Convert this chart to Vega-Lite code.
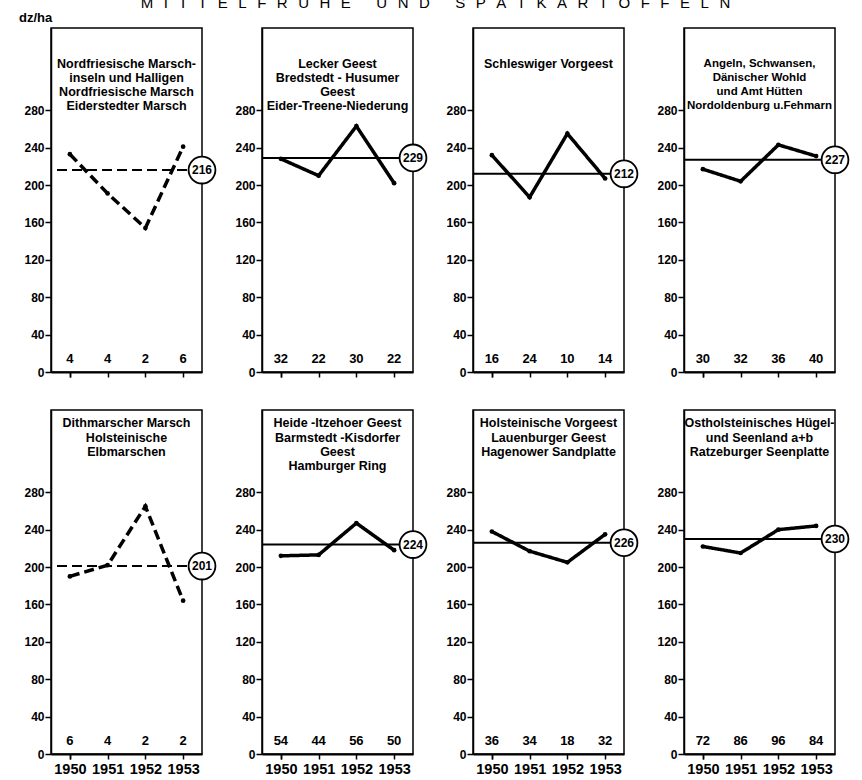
{
  "$schema": "https://vega.github.io/schema/vega-lite/v6.json",
  "padding": {"left": 18, "top": -4, "right": 10, "bottom": 5},
  "background": "white",
  "title": {
    "text": "M\u2002\u2009I\u2002\u2009T\u2002\u2009T\u2002\u2009E\u2002\u2009L\u2002\u2009F\u2002\u2009R\u2002\u2009Ü\u2002\u2009H\u2002\u2009E\u2003\u2002\u2009U\u2002\u2009N\u2002\u2009D\u2003\u2002\u2009S\u2002\u2009P\u2002\u2009Ä\u2002\u2009T\u2002\u2009K\u2002\u2009A\u2002\u2009R\u2002\u2009T\u2002\u2009O\u2002\u2009F\u2002\u2009F\u2002\u2009E\u2002\u2009L\u2002\u2009N",
    "anchor": "middle",
    "font": "Liberation Sans",
    "fontSize": 15,
    "fontWeight": "normal",
    "color": "black",
    "offset": 0
  },
  "data": {"name": "d"},
  "datasets": {
    "d": [
      {"nr": 1, "typ": "Marsch", "title": "Nordfriesische Marsch-|inseln und Halligen|Nordfriesische Marsch|Eiderstedter Marsch", "avg": 216},
      {"nr": 1, "typ": "Marsch", "year": 1950, "yield": 233, "n": 4},
      {"nr": 1, "typ": "Marsch", "year": 1951, "yield": 191, "n": 4},
      {"nr": 1, "typ": "Marsch", "year": 1952, "yield": 154, "n": 2},
      {"nr": 1, "typ": "Marsch", "year": 1953, "yield": 241, "n": 6},
      {"nr": 2, "typ": "Geest", "title": "Lecker  Geest|Bredstedt - Husumer|Geest|Eider-Treene-Niederung", "avg": 229},
      {"nr": 2, "typ": "Geest", "year": 1950, "yield": 228, "n": 32},
      {"nr": 2, "typ": "Geest", "year": 1951, "yield": 210, "n": 22},
      {"nr": 2, "typ": "Geest", "year": 1952, "yield": 263, "n": 30},
      {"nr": 2, "typ": "Geest", "year": 1953, "yield": 202, "n": 22},
      {"nr": 3, "typ": "Geest", "title": "Schleswiger Vorgeest", "avg": 212},
      {"nr": 3, "typ": "Geest", "year": 1950, "yield": 232, "n": 16},
      {"nr": 3, "typ": "Geest", "year": 1951, "yield": 187, "n": 24},
      {"nr": 3, "typ": "Geest", "year": 1952, "yield": 255, "n": 10},
      {"nr": 3, "typ": "Geest", "year": 1953, "yield": 207, "n": 14},
      {"nr": 4, "typ": "Geest", "title": "Angeln, Schwansen,|Dänischer Wohld|und Amt Hütten|Nordoldenburg u.Fehmarn", "avg": 227},
      {"nr": 4, "typ": "Geest", "year": 1950, "yield": 217, "n": 30},
      {"nr": 4, "typ": "Geest", "year": 1951, "yield": 204, "n": 32},
      {"nr": 4, "typ": "Geest", "year": 1952, "yield": 243, "n": 36},
      {"nr": 4, "typ": "Geest", "year": 1953, "yield": 231, "n": 40},
      {"nr": 5, "typ": "Marsch", "title": "Dithmarscher Marsch|Holsteinische|Elbmarschen", "avg": 201},
      {"nr": 5, "typ": "Marsch", "year": 1950, "yield": 190, "n": 6},
      {"nr": 5, "typ": "Marsch", "year": 1951, "yield": 202, "n": 4},
      {"nr": 5, "typ": "Marsch", "year": 1952, "yield": 265, "n": 2},
      {"nr": 5, "typ": "Marsch", "year": 1953, "yield": 164, "n": 2},
      {"nr": 6, "typ": "Geest", "title": "Heide -Itzehoer Geest|Barmstedt -Kisdorfer|Geest|Hamburger Ring", "avg": 224},
      {"nr": 6, "typ": "Geest", "year": 1950, "yield": 212, "n": 54},
      {"nr": 6, "typ": "Geest", "year": 1951, "yield": 213, "n": 44},
      {"nr": 6, "typ": "Geest", "year": 1952, "yield": 247, "n": 56},
      {"nr": 6, "typ": "Geest", "year": 1953, "yield": 218, "n": 50},
      {"nr": 7, "typ": "Geest", "title": "Holsteinische Vorgeest|Lauenburger Geest|Hagenower Sandplatte", "avg": 226},
      {"nr": 7, "typ": "Geest", "year": 1950, "yield": 238, "n": 36},
      {"nr": 7, "typ": "Geest", "year": 1951, "yield": 217, "n": 34},
      {"nr": 7, "typ": "Geest", "year": 1952, "yield": 205, "n": 18},
      {"nr": 7, "typ": "Geest", "year": 1953, "yield": 235, "n": 32},
      {"nr": 8, "typ": "Geest", "title": "Ostholsteinisches Hügel-|und Seenland a+b|Ratzeburger Seenplatte", "avg": 230},
      {"nr": 8, "typ": "Geest", "year": 1950, "yield": 222, "n": 72},
      {"nr": 8, "typ": "Geest", "year": 1951, "yield": 215, "n": 86},
      {"nr": 8, "typ": "Geest", "year": 1952, "yield": 240, "n": 96},
      {"nr": 8, "typ": "Geest", "year": 1953, "yield": 244, "n": 84}
    ]
  },
  "columns": 4,
  "bounds": "flush",
  "spacing": {"row": 38, "column": 60},
  "concat": [
    {
      "title": {"text": "dz/ha", "anchor": "start", "frame": "group", "dx": -32, "offset": 3, "font": "Liberation Sans", "fontSize": 13, "fontWeight": "bold", "color": "black"},
      "transform": [{"filter": "datum.nr == 1"}],
      "width": 151, "height": 344,
      "layer": [
        {"transform": [{"filter": "isValid(datum.avg)"}], "mark": {"type": "rule", "strokeWidth": 2, "color": "black"},
         "encoding": {"y": {"field": "avg", "type": "quantitative", "title": null, "scale": {"domain": [0, 368], "nice": false}, "axis": {"values": [0, 40, 80, 120, 160, 200, 240, 280]}},
                      "strokeDash": {"field": "typ", "type": "nominal", "scale": {"domain": ["Marsch", "Geest"], "range": [[10, 5], [1, 0]]}, "legend": null}}},
        {"transform": [{"filter": "isValid(datum.yield)"}], "mark": {"type": "line", "strokeWidth": 3.5, "color": "black"},
         "encoding": {"x": {"field": "year", "type": "ordinal", "title": null, "axis": {"labels": false}},
                      "y": {"field": "yield", "type": "quantitative", "title": null},
                      "strokeDash": {"field": "typ", "type": "nominal", "legend": null}}},
        {"transform": [{"filter": "isValid(datum.yield)"}], "mark": {"type": "point", "filled": true, "size": 22, "color": "black", "opacity": 1},
         "encoding": {"x": {"field": "year", "type": "ordinal", "title": null}, "y": {"field": "yield", "type": "quantitative", "title": null}}},
        {"transform": [{"filter": "isValid(datum.yield)"}], "mark": {"type": "text", "fontSize": 13},
         "encoding": {"x": {"field": "year", "type": "ordinal", "title": null}, "y": {"datum": 14}, "text": {"field": "n", "type": "quantitative"}}},
        {"transform": [{"filter": "isValid(datum.avg)"}], "mark": {"type": "point", "shape": "circle", "size": 720, "filled": true, "fill": "white", "stroke": "black", "strokeWidth": 1.8, "opacity": 1},
         "encoding": {"x": {"value": "width"}, "y": {"field": "avg", "type": "quantitative", "title": null}}},
        {"transform": [{"filter": "isValid(datum.avg)"}], "mark": {"type": "text", "fontSize": 12},
         "encoding": {"x": {"value": "width"}, "y": {"field": "avg", "type": "quantitative", "title": null}, "text": {"field": "avg", "type": "quantitative"}}},
        {"transform": [{"filter": "isValid(datum.title)"}], "mark": {"type": "text", "dx": -75.5, "fontSize": 12.5, "lineBreak": "|", "lineHeight": 14.3},
         "encoding": {"x": {"value": "width"}, "y": {"datum": 330}, "text": {"field": "title", "type": "nominal"}}}
      ]
    },
    {
      "transform": [{"filter": "datum.nr == 2"}],
      "width": 151, "height": 344,
      "layer": [
        {"transform": [{"filter": "isValid(datum.avg)"}], "mark": {"type": "rule", "strokeWidth": 2, "color": "black"},
         "encoding": {"y": {"field": "avg", "type": "quantitative", "title": null, "scale": {"domain": [0, 368], "nice": false}, "axis": {"values": [0, 40, 80, 120, 160, 200, 240, 280]}},
                      "strokeDash": {"field": "typ", "type": "nominal", "scale": {"domain": ["Marsch", "Geest"], "range": [[10, 5], [1, 0]]}, "legend": null}}},
        {"transform": [{"filter": "isValid(datum.yield)"}], "mark": {"type": "line", "strokeWidth": 3.5, "color": "black"},
         "encoding": {"x": {"field": "year", "type": "ordinal", "title": null, "axis": {"labels": false}},
                      "y": {"field": "yield", "type": "quantitative", "title": null},
                      "strokeDash": {"field": "typ", "type": "nominal", "legend": null}}},
        {"transform": [{"filter": "isValid(datum.yield)"}], "mark": {"type": "point", "filled": true, "size": 22, "color": "black", "opacity": 1},
         "encoding": {"x": {"field": "year", "type": "ordinal", "title": null}, "y": {"field": "yield", "type": "quantitative", "title": null}}},
        {"transform": [{"filter": "isValid(datum.yield)"}], "mark": {"type": "text", "fontSize": 13},
         "encoding": {"x": {"field": "year", "type": "ordinal", "title": null}, "y": {"datum": 14}, "text": {"field": "n", "type": "quantitative"}}},
        {"transform": [{"filter": "isValid(datum.avg)"}], "mark": {"type": "point", "shape": "circle", "size": 720, "filled": true, "fill": "white", "stroke": "black", "strokeWidth": 1.8, "opacity": 1},
         "encoding": {"x": {"value": "width"}, "y": {"field": "avg", "type": "quantitative", "title": null}}},
        {"transform": [{"filter": "isValid(datum.avg)"}], "mark": {"type": "text", "fontSize": 12},
         "encoding": {"x": {"value": "width"}, "y": {"field": "avg", "type": "quantitative", "title": null}, "text": {"field": "avg", "type": "quantitative"}}},
        {"transform": [{"filter": "isValid(datum.title)"}], "mark": {"type": "text", "dx": -75.5, "fontSize": 12.5, "lineBreak": "|", "lineHeight": 14.3},
         "encoding": {"x": {"value": "width"}, "y": {"datum": 330}, "text": {"field": "title", "type": "nominal"}}}
      ]
    },
    {
      "transform": [{"filter": "datum.nr == 3"}],
      "width": 151, "height": 344,
      "layer": [
        {"transform": [{"filter": "isValid(datum.avg)"}], "mark": {"type": "rule", "strokeWidth": 2, "color": "black"},
         "encoding": {"y": {"field": "avg", "type": "quantitative", "title": null, "scale": {"domain": [0, 368], "nice": false}, "axis": {"values": [0, 40, 80, 120, 160, 200, 240, 280]}},
                      "strokeDash": {"field": "typ", "type": "nominal", "scale": {"domain": ["Marsch", "Geest"], "range": [[10, 5], [1, 0]]}, "legend": null}}},
        {"transform": [{"filter": "isValid(datum.yield)"}], "mark": {"type": "line", "strokeWidth": 3.5, "color": "black"},
         "encoding": {"x": {"field": "year", "type": "ordinal", "title": null, "axis": {"labels": false}},
                      "y": {"field": "yield", "type": "quantitative", "title": null},
                      "strokeDash": {"field": "typ", "type": "nominal", "legend": null}}},
        {"transform": [{"filter": "isValid(datum.yield)"}], "mark": {"type": "point", "filled": true, "size": 22, "color": "black", "opacity": 1},
         "encoding": {"x": {"field": "year", "type": "ordinal", "title": null}, "y": {"field": "yield", "type": "quantitative", "title": null}}},
        {"transform": [{"filter": "isValid(datum.yield)"}], "mark": {"type": "text", "fontSize": 13},
         "encoding": {"x": {"field": "year", "type": "ordinal", "title": null}, "y": {"datum": 14}, "text": {"field": "n", "type": "quantitative"}}},
        {"transform": [{"filter": "isValid(datum.avg)"}], "mark": {"type": "point", "shape": "circle", "size": 720, "filled": true, "fill": "white", "stroke": "black", "strokeWidth": 1.8, "opacity": 1},
         "encoding": {"x": {"value": "width"}, "y": {"field": "avg", "type": "quantitative", "title": null}}},
        {"transform": [{"filter": "isValid(datum.avg)"}], "mark": {"type": "text", "fontSize": 12},
         "encoding": {"x": {"value": "width"}, "y": {"field": "avg", "type": "quantitative", "title": null}, "text": {"field": "avg", "type": "quantitative"}}},
        {"transform": [{"filter": "isValid(datum.title)"}], "mark": {"type": "text", "dx": -75.5, "fontSize": 12.5, "lineBreak": "|", "lineHeight": 14.3},
         "encoding": {"x": {"value": "width"}, "y": {"datum": 330}, "text": {"field": "title", "type": "nominal"}}}
      ]
    },
    {
      "transform": [{"filter": "datum.nr == 4"}],
      "width": 151, "height": 344,
      "layer": [
        {"transform": [{"filter": "isValid(datum.avg)"}], "mark": {"type": "rule", "strokeWidth": 2, "color": "black"},
         "encoding": {"y": {"field": "avg", "type": "quantitative", "title": null, "scale": {"domain": [0, 368], "nice": false}, "axis": {"values": [0, 40, 80, 120, 160, 200, 240, 280]}},
                      "strokeDash": {"field": "typ", "type": "nominal", "scale": {"domain": ["Marsch", "Geest"], "range": [[10, 5], [1, 0]]}, "legend": null}}},
        {"transform": [{"filter": "isValid(datum.yield)"}], "mark": {"type": "line", "strokeWidth": 3.5, "color": "black"},
         "encoding": {"x": {"field": "year", "type": "ordinal", "title": null, "axis": {"labels": false}},
                      "y": {"field": "yield", "type": "quantitative", "title": null},
                      "strokeDash": {"field": "typ", "type": "nominal", "legend": null}}},
        {"transform": [{"filter": "isValid(datum.yield)"}], "mark": {"type": "point", "filled": true, "size": 22, "color": "black", "opacity": 1},
         "encoding": {"x": {"field": "year", "type": "ordinal", "title": null}, "y": {"field": "yield", "type": "quantitative", "title": null}}},
        {"transform": [{"filter": "isValid(datum.yield)"}], "mark": {"type": "text", "fontSize": 13},
         "encoding": {"x": {"field": "year", "type": "ordinal", "title": null}, "y": {"datum": 14}, "text": {"field": "n", "type": "quantitative"}}},
        {"transform": [{"filter": "isValid(datum.avg)"}], "mark": {"type": "point", "shape": "circle", "size": 720, "filled": true, "fill": "white", "stroke": "black", "strokeWidth": 1.8, "opacity": 1},
         "encoding": {"x": {"value": "width"}, "y": {"field": "avg", "type": "quantitative", "title": null}}},
        {"transform": [{"filter": "isValid(datum.avg)"}], "mark": {"type": "text", "fontSize": 12},
         "encoding": {"x": {"value": "width"}, "y": {"field": "avg", "type": "quantitative", "title": null}, "text": {"field": "avg", "type": "quantitative"}}},
        {"transform": [{"filter": "isValid(datum.title)"}], "mark": {"type": "text", "dx": -75.5, "fontSize": 11.5, "lineBreak": "|", "lineHeight": 14.3},
         "encoding": {"x": {"value": "width"}, "y": {"datum": 330}, "text": {"field": "title", "type": "nominal"}}}
      ]
    },
    {
      "transform": [{"filter": "datum.nr == 5"}],
      "width": 151, "height": 344,
      "layer": [
        {"transform": [{"filter": "isValid(datum.avg)"}], "mark": {"type": "rule", "strokeWidth": 2, "color": "black"},
         "encoding": {"y": {"field": "avg", "type": "quantitative", "title": null, "scale": {"domain": [0, 368], "nice": false}, "axis": {"values": [0, 40, 80, 120, 160, 200, 240, 280]}},
                      "strokeDash": {"field": "typ", "type": "nominal", "scale": {"domain": ["Marsch", "Geest"], "range": [[10, 5], [1, 0]]}, "legend": null}}},
        {"transform": [{"filter": "isValid(datum.yield)"}], "mark": {"type": "line", "strokeWidth": 3.5, "color": "black"},
         "encoding": {"x": {"field": "year", "type": "ordinal", "title": null, "axis": {"labels": true}},
                      "y": {"field": "yield", "type": "quantitative", "title": null},
                      "strokeDash": {"field": "typ", "type": "nominal", "legend": null}}},
        {"transform": [{"filter": "isValid(datum.yield)"}], "mark": {"type": "point", "filled": true, "size": 22, "color": "black", "opacity": 1},
         "encoding": {"x": {"field": "year", "type": "ordinal", "title": null}, "y": {"field": "yield", "type": "quantitative", "title": null}}},
        {"transform": [{"filter": "isValid(datum.yield)"}], "mark": {"type": "text", "fontSize": 13},
         "encoding": {"x": {"field": "year", "type": "ordinal", "title": null}, "y": {"datum": 14}, "text": {"field": "n", "type": "quantitative"}}},
        {"transform": [{"filter": "isValid(datum.avg)"}], "mark": {"type": "point", "shape": "circle", "size": 720, "filled": true, "fill": "white", "stroke": "black", "strokeWidth": 1.8, "opacity": 1},
         "encoding": {"x": {"value": "width"}, "y": {"field": "avg", "type": "quantitative", "title": null}}},
        {"transform": [{"filter": "isValid(datum.avg)"}], "mark": {"type": "text", "fontSize": 12},
         "encoding": {"x": {"value": "width"}, "y": {"field": "avg", "type": "quantitative", "title": null}, "text": {"field": "avg", "type": "quantitative"}}},
        {"transform": [{"filter": "isValid(datum.title)"}], "mark": {"type": "text", "dx": -75.5, "fontSize": 12.5, "baseline": "top", "lineBreak": "|", "lineHeight": 14.3},
         "encoding": {"x": {"value": "width"}, "y": {"datum": 360}, "text": {"field": "title", "type": "nominal"}}}
      ]
    },
    {
      "transform": [{"filter": "datum.nr == 6"}],
      "width": 151, "height": 344,
      "layer": [
        {"transform": [{"filter": "isValid(datum.avg)"}], "mark": {"type": "rule", "strokeWidth": 2, "color": "black"},
         "encoding": {"y": {"field": "avg", "type": "quantitative", "title": null, "scale": {"domain": [0, 368], "nice": false}, "axis": {"values": [0, 40, 80, 120, 160, 200, 240, 280]}},
                      "strokeDash": {"field": "typ", "type": "nominal", "scale": {"domain": ["Marsch", "Geest"], "range": [[10, 5], [1, 0]]}, "legend": null}}},
        {"transform": [{"filter": "isValid(datum.yield)"}], "mark": {"type": "line", "strokeWidth": 3.5, "color": "black"},
         "encoding": {"x": {"field": "year", "type": "ordinal", "title": null, "axis": {"labels": true}},
                      "y": {"field": "yield", "type": "quantitative", "title": null},
                      "strokeDash": {"field": "typ", "type": "nominal", "legend": null}}},
        {"transform": [{"filter": "isValid(datum.yield)"}], "mark": {"type": "point", "filled": true, "size": 22, "color": "black", "opacity": 1},
         "encoding": {"x": {"field": "year", "type": "ordinal", "title": null}, "y": {"field": "yield", "type": "quantitative", "title": null}}},
        {"transform": [{"filter": "isValid(datum.yield)"}], "mark": {"type": "text", "fontSize": 13},
         "encoding": {"x": {"field": "year", "type": "ordinal", "title": null}, "y": {"datum": 14}, "text": {"field": "n", "type": "quantitative"}}},
        {"transform": [{"filter": "isValid(datum.avg)"}], "mark": {"type": "point", "shape": "circle", "size": 720, "filled": true, "fill": "white", "stroke": "black", "strokeWidth": 1.8, "opacity": 1},
         "encoding": {"x": {"value": "width"}, "y": {"field": "avg", "type": "quantitative", "title": null}}},
        {"transform": [{"filter": "isValid(datum.avg)"}], "mark": {"type": "text", "fontSize": 12},
         "encoding": {"x": {"value": "width"}, "y": {"field": "avg", "type": "quantitative", "title": null}, "text": {"field": "avg", "type": "quantitative"}}},
        {"transform": [{"filter": "isValid(datum.title)"}], "mark": {"type": "text", "dx": -75.5, "fontSize": 12.5, "baseline": "top", "lineBreak": "|", "lineHeight": 14.3},
         "encoding": {"x": {"value": "width"}, "y": {"datum": 360}, "text": {"field": "title", "type": "nominal"}}}
      ]
    },
    {
      "transform": [{"filter": "datum.nr == 7"}],
      "width": 151, "height": 344,
      "layer": [
        {"transform": [{"filter": "isValid(datum.avg)"}], "mark": {"type": "rule", "strokeWidth": 2, "color": "black"},
         "encoding": {"y": {"field": "avg", "type": "quantitative", "title": null, "scale": {"domain": [0, 368], "nice": false}, "axis": {"values": [0, 40, 80, 120, 160, 200, 240, 280]}},
                      "strokeDash": {"field": "typ", "type": "nominal", "scale": {"domain": ["Marsch", "Geest"], "range": [[10, 5], [1, 0]]}, "legend": null}}},
        {"transform": [{"filter": "isValid(datum.yield)"}], "mark": {"type": "line", "strokeWidth": 3.5, "color": "black"},
         "encoding": {"x": {"field": "year", "type": "ordinal", "title": null, "axis": {"labels": true}},
                      "y": {"field": "yield", "type": "quantitative", "title": null},
                      "strokeDash": {"field": "typ", "type": "nominal", "legend": null}}},
        {"transform": [{"filter": "isValid(datum.yield)"}], "mark": {"type": "point", "filled": true, "size": 22, "color": "black", "opacity": 1},
         "encoding": {"x": {"field": "year", "type": "ordinal", "title": null}, "y": {"field": "yield", "type": "quantitative", "title": null}}},
        {"transform": [{"filter": "isValid(datum.yield)"}], "mark": {"type": "text", "fontSize": 13},
         "encoding": {"x": {"field": "year", "type": "ordinal", "title": null}, "y": {"datum": 14}, "text": {"field": "n", "type": "quantitative"}}},
        {"transform": [{"filter": "isValid(datum.avg)"}], "mark": {"type": "point", "shape": "circle", "size": 720, "filled": true, "fill": "white", "stroke": "black", "strokeWidth": 1.8, "opacity": 1},
         "encoding": {"x": {"value": "width"}, "y": {"field": "avg", "type": "quantitative", "title": null}}},
        {"transform": [{"filter": "isValid(datum.avg)"}], "mark": {"type": "text", "fontSize": 12},
         "encoding": {"x": {"value": "width"}, "y": {"field": "avg", "type": "quantitative", "title": null}, "text": {"field": "avg", "type": "quantitative"}}},
        {"transform": [{"filter": "isValid(datum.title)"}], "mark": {"type": "text", "dx": -75.5, "fontSize": 12.5, "baseline": "top", "lineBreak": "|", "lineHeight": 14.3},
         "encoding": {"x": {"value": "width"}, "y": {"datum": 360}, "text": {"field": "title", "type": "nominal"}}}
      ]
    },
    {
      "transform": [{"filter": "datum.nr == 8"}],
      "width": 151, "height": 344,
      "layer": [
        {"transform": [{"filter": "isValid(datum.avg)"}], "mark": {"type": "rule", "strokeWidth": 2, "color": "black"},
         "encoding": {"y": {"field": "avg", "type": "quantitative", "title": null, "scale": {"domain": [0, 368], "nice": false}, "axis": {"values": [0, 40, 80, 120, 160, 200, 240, 280]}},
                      "strokeDash": {"field": "typ", "type": "nominal", "scale": {"domain": ["Marsch", "Geest"], "range": [[10, 5], [1, 0]]}, "legend": null}}},
        {"transform": [{"filter": "isValid(datum.yield)"}], "mark": {"type": "line", "strokeWidth": 3.5, "color": "black"},
         "encoding": {"x": {"field": "year", "type": "ordinal", "title": null, "axis": {"labels": true}},
                      "y": {"field": "yield", "type": "quantitative", "title": null},
                      "strokeDash": {"field": "typ", "type": "nominal", "legend": null}}},
        {"transform": [{"filter": "isValid(datum.yield)"}], "mark": {"type": "point", "filled": true, "size": 22, "color": "black", "opacity": 1},
         "encoding": {"x": {"field": "year", "type": "ordinal", "title": null}, "y": {"field": "yield", "type": "quantitative", "title": null}}},
        {"transform": [{"filter": "isValid(datum.yield)"}], "mark": {"type": "text", "fontSize": 13},
         "encoding": {"x": {"field": "year", "type": "ordinal", "title": null}, "y": {"datum": 14}, "text": {"field": "n", "type": "quantitative"}}},
        {"transform": [{"filter": "isValid(datum.avg)"}], "mark": {"type": "point", "shape": "circle", "size": 720, "filled": true, "fill": "white", "stroke": "black", "strokeWidth": 1.8, "opacity": 1},
         "encoding": {"x": {"value": "width"}, "y": {"field": "avg", "type": "quantitative", "title": null}}},
        {"transform": [{"filter": "isValid(datum.avg)"}], "mark": {"type": "text", "fontSize": 12},
         "encoding": {"x": {"value": "width"}, "y": {"field": "avg", "type": "quantitative", "title": null}, "text": {"field": "avg", "type": "quantitative"}}},
        {"transform": [{"filter": "isValid(datum.title)"}], "mark": {"type": "text", "dx": -75.5, "fontSize": 12.5, "baseline": "top", "lineBreak": "|", "lineHeight": 14.3},
         "encoding": {"x": {"value": "width"}, "y": {"datum": 360}, "text": {"field": "title", "type": "nominal"}}}
      ]
    }
  ],
  "config": {
    "view": {"stroke": "black", "strokeWidth": 1.5},
    "scale": {"bandPaddingInner": 0, "bandPaddingOuter": 0},
    "text": {"font": "Liberation Sans", "fontWeight": "bold", "color": "black", "baseline": "middle", "align": "center"},
    "axis": {"domainColor": "black", "domainWidth": 1.5, "tickColor": "black", "tickWidth": 1.5, "labelColor": "black", "labelFont": "Liberation Sans", "labelFontWeight": "bold", "grid": false},
    "axisX": {"tickBand": "extent", "labelAngle": 0, "labelFontSize": 14.5, "labelPadding": 3, "tickSize": 5, "domainWidth": 2},
    "axisY": {"tickSize": 6, "labelPadding": 1, "labelFontSize": 12}
  }
}
